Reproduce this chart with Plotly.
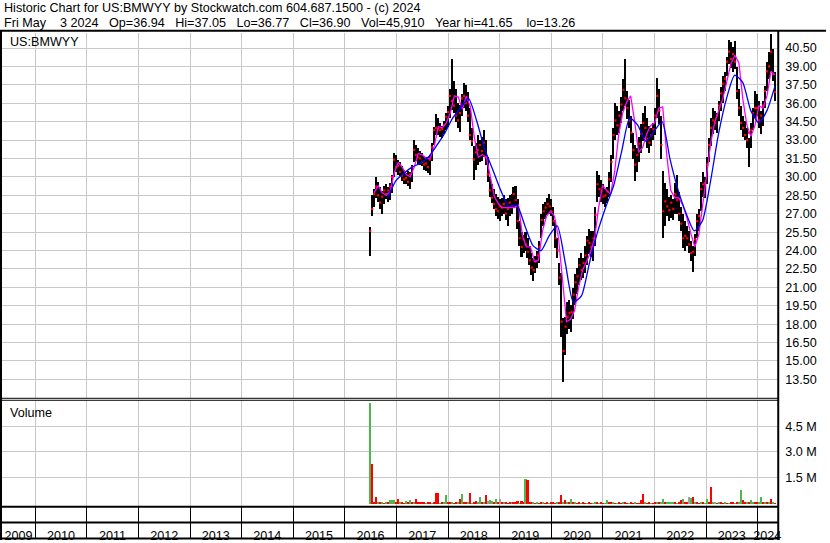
import pandas as pd
import plotly.graph_objects as go

W, H = 830, 543

# ---------------- data ----------------
bar_start, bar_end = "2016-06-29", "2024-05-03"   # ~2-week bars, evenly spaced

highs = [
    25.9, 28.5, 29.0, 30.0, 29.6, 29.2, 28.9, 29.3, 29.4, 29.2,
    29.5, 30.2, 32.0, 31.8, 31.4, 31.2, 30.9, 30.6, 30.3, 30.5,
    30.4, 31.0, 33.0, 32.6, 32.4, 32.1, 32.0, 31.7, 31.6, 31.6,
    31.8, 32.8, 34.1, 35.1, 34.8, 34.4, 34.2, 34.6, 35.2, 35.8,
    37.2, 39.6, 37.8, 37.2, 36.0, 35.9, 36.8, 37.7, 37.5, 36.9,
    35.6, 34.0, 32.5, 32.8, 33.4, 33.0, 33.3, 33.8, 33.0, 31.6,
    30.0, 29.4, 29.0, 28.6, 28.4, 28.2, 28.3, 28.5, 28.2, 28.3,
    28.5, 28.6, 29.2, 29.3, 28.2, 26.4, 25.5, 25.3, 25.5, 25.0,
    24.4, 23.8, 23.4, 23.6, 24.0, 24.8, 27.0, 27.8, 28.0, 28.3,
    28.6, 28.2, 27.6, 26.5, 25.0, 23.0, 22.2, 18.5, 18.6, 19.8,
    20.0, 19.6, 21.0, 22.1, 22.6, 23.4, 23.8, 23.4, 24.4, 25.2,
    25.8, 25.6, 25.6, 27.6, 30.5, 30.2, 29.8, 29.4, 29.0, 29.2,
    30.4, 31.8, 34.0, 36.0, 35.8, 35.4, 36.5, 38.0, 39.6, 37.0,
    36.3, 35.0, 33.6, 32.6, 32.4, 33.3, 34.3, 35.2, 35.8, 34.8,
    34.2, 34.0, 34.4, 35.6, 38.1, 37.2, 35.0, 30.5, 29.5, 29.0,
    28.4, 28.5, 28.2, 29.5, 30.2, 28.8, 27.6, 27.0, 26.4, 26.0,
    25.6, 24.8, 24.4, 25.4, 27.0, 27.4, 29.6, 30.4, 30.0, 31.6,
    33.2, 34.8, 35.6, 35.4, 35.2, 36.2, 37.3, 38.2, 38.6, 39.8,
    41.2, 41.0, 40.6, 41.1, 39.0, 37.2, 35.8, 35.0, 34.6, 34.0,
    33.2, 34.4, 35.6, 37.0, 36.8, 36.2, 35.4, 36.2, 37.4, 39.4,
    40.2, 41.65, 40.4, 38.6,
]

lows = [
    23.6, 26.8, 27.6, 28.3, 28.0, 27.4, 27.0, 27.8, 28.2, 28.0,
    28.1, 28.7, 30.0, 30.4, 30.2, 30.1, 29.7, 29.4, 29.4, 29.3,
    29.0, 29.6, 31.2, 31.3, 31.1, 31.0, 30.9, 30.6, 30.5, 30.3,
    30.2, 31.3, 32.6, 33.4, 33.4, 33.3, 33.2, 33.5, 33.8, 34.1,
    34.8, 35.5, 35.2, 34.5, 34.0, 33.7, 35.0, 35.6, 35.4, 34.5,
    33.0, 32.5, 29.8, 30.6, 31.0, 31.2, 31.3, 31.6, 31.0, 29.6,
    28.4, 27.9, 27.4, 26.8, 26.6, 26.4, 26.8, 27.0, 26.5, 26.0,
    26.8, 27.0, 27.5, 27.6, 25.8, 24.4, 23.5, 23.8, 24.0, 23.4,
    22.8, 22.0, 21.5, 22.2, 22.6, 23.0, 25.0, 26.0, 26.6, 26.9,
    27.0, 26.8, 26.0, 24.2, 23.4, 21.2, 17.0, 13.3, 15.5, 17.2,
    17.6, 17.4, 18.4, 19.6, 20.5, 21.2, 21.6, 21.8, 22.2, 22.8,
    23.7, 23.5, 23.2, 24.4, 28.0, 28.4, 28.0, 27.8, 27.6, 27.9,
    28.4, 29.6, 31.5, 33.0, 33.4, 33.6, 34.4, 35.4, 35.8, 34.7,
    34.0, 32.8, 31.5, 29.7, 30.4, 31.2, 32.0, 32.9, 33.2, 32.4,
    32.0, 32.5, 33.0, 33.4, 34.8, 34.3, 31.5, 25.0, 26.0, 26.8,
    26.4, 26.7, 26.5, 27.0, 27.0, 26.4, 25.6, 24.2, 24.0, 24.4,
    23.8, 23.2, 22.3, 23.6, 25.0, 25.6, 27.2, 28.4, 28.3, 29.4,
    31.2, 32.5, 33.5, 33.8, 33.6, 34.6, 35.4, 36.0, 37.0, 38.2,
    39.2, 38.9, 38.6, 38.8, 36.4, 35.0, 33.8, 33.3, 33.0, 32.4,
    30.8, 32.4, 33.8, 34.8, 35.0, 34.0, 33.5, 34.2, 35.6, 37.0,
    38.0, 38.6, 37.8, 36.2,
]

closes = [
    25.6, 27.4, 28.6, 29.2, 28.5, 27.9, 28.4, 28.9, 28.6, 28.9,
    29.2, 30.0, 31.4, 30.8, 30.9, 30.4, 30.1, 29.8, 29.9, 29.6,
    30.2, 30.8, 32.2, 31.8, 31.6, 31.5, 31.2, 31.0, 31.1, 30.8,
    31.4, 32.4, 33.8, 34.0, 33.9, 33.8, 33.9, 34.2, 34.9, 35.3,
    36.6, 36.2, 35.8, 35.0, 34.6, 35.2, 36.4, 36.6, 36.0, 35.0,
    33.4, 32.9, 31.4, 32.0, 32.2, 32.6, 32.1, 32.8, 31.6, 30.2,
    28.9, 28.3, 27.8, 27.4, 27.2, 27.6, 27.5, 27.8, 27.0, 27.4,
    27.9, 27.6, 28.6, 28.1, 26.4, 25.0, 24.3, 24.9, 24.5, 23.9,
    23.2, 22.6, 22.4, 23.1, 23.6, 24.3, 26.5, 27.2, 27.5, 27.8,
    27.6, 27.2, 26.4, 25.0, 24.0, 21.8, 18.2, 15.8, 17.8, 18.6,
    18.9, 19.0, 20.4, 21.4, 21.9, 22.8, 22.4, 23.0, 23.6, 24.8,
    24.6, 24.3, 25.0, 26.9, 29.4, 29.0, 28.8, 28.4, 28.5, 28.8,
    29.8, 31.2, 33.4, 34.6, 34.2, 35.0, 35.9, 37.1, 36.4, 35.6,
    34.6, 33.6, 32.2, 31.0, 31.8, 32.7, 33.5, 34.4, 34.0, 33.1,
    32.8, 33.4, 33.9, 35.0, 36.6, 35.4, 32.6, 27.2, 28.0, 27.6,
    27.3, 27.9, 27.4, 28.6, 28.1, 27.0, 26.2, 25.0, 25.2, 25.0,
    24.5, 23.8, 23.9, 24.9, 26.4, 26.8, 29.0, 29.4, 29.5, 31.0,
    32.6, 34.0, 34.6, 34.4, 35.0, 35.8, 36.8, 37.6, 38.0, 39.4,
    40.2, 39.6, 40.0, 39.4, 37.0, 35.6, 34.4, 34.0, 33.4, 33.0,
    33.6, 33.8, 35.2, 35.6, 35.6, 34.6, 35.0, 35.8, 37.0, 38.6,
    39.0, 40.2, 38.4, 36.90,
]

volumes_m = [
    5.86, 2.30, 0.08, 0.38, 0.06, 0.09, 0.14, 0.05, 0.07, 0.10,
    0.23, 0.23, 0.20, 0.06, 0.30, 0.08, 0.10, 0.05, 0.18, 0.07,
    0.20, 0.09, 0.06, 0.30, 0.12, 0.12, 0.12, 0.12, 0.05, 0.08,
    0.06, 0.04, 0.09, 0.66, 0.66, 0.05, 0.07, 0.10, 0.49, 0.06,
    0.08, 0.14, 0.05, 0.09, 0.12, 0.30, 0.55, 0.07, 0.10, 0.06,
    0.66, 0.05, 0.08, 0.15, 0.10, 0.40, 0.07, 0.12, 0.50, 0.18,
    0.20, 0.18, 0.09, 0.30, 0.10, 0.30, 0.07, 0.06, 0.09, 0.05,
    0.07, 0.09, 0.06, 0.10, 0.15, 0.05, 0.15, 0.08, 1.47, 1.41,
    0.12, 0.12, 0.06, 0.04, 0.07, 0.05, 0.08, 0.06, 0.05, 0.07,
    0.04, 0.06, 0.12, 0.05, 0.08, 0.10, 0.50, 0.14, 0.20, 0.09,
    0.10, 0.30, 0.08, 0.06, 0.05, 0.07, 0.04, 0.06, 0.05, 0.04,
    0.06, 0.05, 0.04, 0.12, 0.07, 0.05, 0.06, 0.04, 0.05, 0.20,
    0.06, 0.12, 0.07, 0.05, 0.04, 0.06, 0.05, 0.07, 0.08, 0.05,
    0.04, 0.06, 0.05, 0.07, 0.04, 0.05, 0.20, 0.60, 0.07, 0.05,
    0.06, 0.04, 0.05, 0.07, 0.10, 0.06, 0.08, 0.30, 0.12, 0.10,
    0.14, 0.14, 0.14, 0.06, 0.05, 0.07, 0.20, 0.30, 0.12, 0.08,
    0.40, 0.35, 0.40, 0.10, 0.06, 0.05, 0.07, 0.06, 0.05, 0.30,
    0.08, 1.01, 0.06, 0.12, 0.05, 0.07, 0.12, 0.05, 0.06, 0.04,
    0.05, 0.07, 0.06, 0.05, 0.08, 0.06, 0.78, 0.20, 0.10, 0.07,
    0.12, 0.22, 0.08, 0.12, 0.10, 0.07, 0.40, 0.09, 0.12, 0.06,
    0.08, 0.30, 0.10, 0.05,
]

# g = up day, r = down day, n = unchanged
vol_direction = (
    "grrrgrgrgr" "gggrrgrrgr" "grgrrrrrgr" "rgrrrgrggr" "rgrrgrgrrg"
    "rgrrggrgrn" "ggrgrnrgrr" "rgrrrgrrgr" "rrgrgrrgrr" "grrrgrrgrg"
    "rgrgrrgrrg" "rrggrgrrgg" "rrgrgrrgrr" "grrgrrrrgr" "rgrrgrggrg"
    "gggrgrrgrr" "ngrgrrgrgg" "rrgnrgrrgr" "grrgrggrrg" "rggrrggrgr"
    "grgr"
)

ma_short_start, ma_short_end = "2016-07-27", "2024-05-03"
ma_short = [
    28.7, 29.3, 28.7, 28.5, 28.8, 30.3, 31.2, 30.8, 30.2, 30.0,
    30.8, 31.9, 31.8, 31.5, 31.5, 32.5, 34.1, 34.0, 34.4, 35.2,
    36.6, 36.5, 35.5, 36.6, 35.7, 33.2, 31.6, 31.8, 31.6, 29.9,
    28.4, 27.8, 27.5, 27.5, 27.5, 27.5, 27.7, 25.2, 24.3, 24.3,
    23.1, 23.2, 25.6, 26.8, 27.2, 26.8, 25.0, 21.5, 18.2, 18.4,
    19.1, 21.0, 22.4, 23.1, 23.9, 25.0, 27.5, 29.3, 28.9, 28.6,
    30.4, 33.4, 35.2, 36.1, 36.6, 34.5, 32.0, 32.4, 33.5, 34.2,
    34.4, 35.6, 35.7, 31.8, 28.9, 28.3, 28.3, 27.7, 26.7, 25.4,
    24.3, 25.3, 27.8, 30.2, 32.8, 34.5, 35.5, 36.4, 37.8, 39.2,
    39.9, 39.3, 36.3, 34.2, 33.3, 34.2, 35.8, 35.6, 36.6, 38.6,
    38.3,
]

ma_long_start, ma_long_end = "2016-11-01", "2024-05-03"
ma_long = [
    28.3, 29.7, 30.3, 30.8, 31.1, 31.6, 32.5, 33.5, 34.75, 35.6,
    36.4, 34.6, 32.3, 30.6, 28.9, 27.6, 27.7, 26.0, 24.4, 24.0,
    25.2, 26.0, 23.0, 19.8, 20.3, 23.0, 25.5, 27.5, 29.3, 32.1,
    34.8, 34.2, 32.9, 33.7, 34.5, 31.4, 28.9, 27.0, 25.6, 26.4,
    29.6, 33.5, 36.4, 38.3, 37.7, 35.4, 34.4, 35.4, 37.4,
]

price_tickvals = [13.5, 15.0, 16.5, 18.0, 19.5, 21.0, 22.5, 24.0, 25.5, 27.0,
                  28.5, 30.0, 31.5, 33.0, 34.5, 36.0, 37.5, 39.0, 40.5]

year_labels = [str(y) for y in range(2009, 2025)]
year_label_dates = ["2009-09-05"] + [f"{y}-07-02" for y in range(2010, 2024)] + ["2024-03-10"]

vol_tickvals = [1.5, 3.0, 4.5]
vol_ticktext = ["1.5 M", "3.0 M", "4.5 M"]

header_line1 = "Historic Chart for US:BMWYY by Stockwatch.com 604.687.1500 - (c) 2024"
header_line2 = ("Fri May    3 2024   Op=36.94   Hi=37.05   Lo=36.77   Cl=36.90   "
                "Vol=45,910   Year hi=41.65    lo=13.26")
symbol_label = "US:BMWYY"
volume_label = "Volume"

# ---------------- build ----------------
bar_dates = pd.date_range(bar_start, bar_end, periods=len(highs))
ms_dates = pd.date_range(ma_short_start, ma_short_end, periods=len(ma_short))
ml_dates = pd.date_range(ma_long_start, ma_long_end, periods=len(ma_long))

FONT = "Liberation Sans, Arial, Helvetica, sans-serif"
FS = 12.6
GRID = "#c8c8c8"
DAY_MS = 86400000


def px_x(x):
    return x / W


def px_y(y):
    return 1 - y / H


x_range = ["2009-05-11", "2024-05-19"]
color_map = {"g": "#4cb84c", "r": "#ff0000", "n": "#a0a0a0"}
vol_colors = [color_map[c] for c in vol_direction]

fig = go.Figure()

fig.add_trace(go.Bar(
    x=bar_dates, base=lows, y=[h - l for h, l in zip(highs, lows)],
    width=11 * DAY_MS, marker=dict(color="black", line=dict(width=0)),
    xaxis="x", yaxis="y", hoverinfo="skip",
))
fig.add_trace(go.Scatter(
    x=bar_dates, y=closes, mode="markers",
    marker=dict(symbol="square", size=2.2, color="#ff0000", line=dict(width=0)),
    xaxis="x", yaxis="y", hoverinfo="skip",
))
fig.add_trace(go.Scatter(
    x=ms_dates, y=ma_short, mode="lines",
    line=dict(color="#ff00ff", width=1.3), xaxis="x", yaxis="y", hoverinfo="skip",
))
fig.add_trace(go.Scatter(
    x=ml_dates, y=ma_long, mode="lines", line_shape="spline",
    line=dict(color="#0000ff", width=1.3, smoothing=0.6), xaxis="x", yaxis="y", hoverinfo="skip",
))
fig.add_trace(go.Bar(
    x=bar_dates, y=volumes_m, width=11 * DAY_MS,
    marker=dict(color=vol_colors, line=dict(width=0)),
    xaxis="x2", yaxis="y2", hoverinfo="skip",
))

dom_x = [px_x(2), px_x(781)]

fig.update_layout(
    width=W, height=H,
    margin=dict(l=0, r=0, t=0, b=0),
    paper_bgcolor="white", plot_bgcolor="white",
    showlegend=False, bargap=0,
    font=dict(family=FONT, size=FS, color="black"),
    xaxis=dict(
        domain=dom_x, anchor="y", type="date", range=x_range,
        tick0="2010-01-01", dtick="M12", showticklabels=False, ticks="",
        showgrid=True, gridcolor=GRID, gridwidth=1, showline=False, zeroline=False,
        fixedrange=True,
    ),
    yaxis=dict(
        domain=[px_y(400), px_y(33)], anchor="x", range=[12.0, 41.74],
        side="right", tickmode="array", tickvals=price_tickvals, tickformat=".2f",
        showgrid=True, gridcolor=GRID, gridwidth=1, zeroline=False, showline=False,
        ticks="", ticklabelstandoff=7, tickfont=dict(family=FONT, size=FS, color="black"),
        fixedrange=True,
    ),
    xaxis2=dict(
        domain=dom_x, anchor="y2", type="date", range=x_range,
        tickmode="array", tickvals=year_label_dates, ticktext=year_labels,
        ticks="", showgrid=False, showline=False, zeroline=False,
        ticklabelstandoff=20, tickfont=dict(family=FONT, size=FS, color="black"),
        minor=dict(tick0="2010-01-01", dtick="M12", ticks="outside", ticklen=32,
                   tickwidth=1, tickcolor="black", showgrid=True, gridcolor=GRID,
                   gridwidth=1),
        fixedrange=True,
    ),
    yaxis2=dict(
        domain=[px_y(509), px_y(402)], anchor="x2", range=[-0.144, 6.03],
        side="right", tickmode="array", tickvals=vol_tickvals, ticktext=vol_ticktext,
        showgrid=True, gridcolor=GRID, gridwidth=1, zeroline=False, showline=False,
        ticks="", ticklabelstandoff=7, tickfont=dict(family=FONT, size=FS, color="black"),
        fixedrange=True,
    ),
)

nb = "\u00a0"
annos = [
    dict(text=header_line1.replace(" ", nb), x=px_x(2), y=px_y(8.5)),
    dict(text=header_line2.replace(" ", nb), x=px_x(2), y=px_y(23)),
    dict(text=symbol_label, x=px_x(8), y=px_y(42.5)),
    dict(text=volume_label, x=px_x(8), y=px_y(415.5)),
]
for a in annos:
    fig.add_annotation(xref="paper", yref="paper", xanchor="left", yanchor="middle",
                       showarrow=False, font=dict(family=FONT, size=FS, color="black"),
                       **a)

lines = [
    # (x0, y0, x1, y1, width)
    (0, 31, 830, 31, 2),        # header underline
    (1, 31, 1, 543, 2),         # left border
    (782, 31, 782, 543, 2),     # right axis line
    (0, 400.5, 782, 400.5, 1),  # price/volume double separator
    (0, 402.5, 782, 402.5, 1),
    (0, 509.5, 782, 509.5, 2),  # volume bottom
    (0, 525.5, 782, 525.5, 2),  # label band top
    (0, 541.5, 782, 541.5, 2),  # bottom border
]
for x0, y0, x1, y1, w in lines:
    fig.add_shape(type="line", xref="paper", yref="paper",
                  x0=px_x(x0), y0=px_y(y0), x1=px_x(x1), y1=px_y(y1),
                  line=dict(color="black", width=w), layer="above")

fig.write_html(
    "out.html",
    config={"displayModeBar": False},
    post_script="document.body.style.margin='0px';document.body.style.overflow='hidden';",
)
